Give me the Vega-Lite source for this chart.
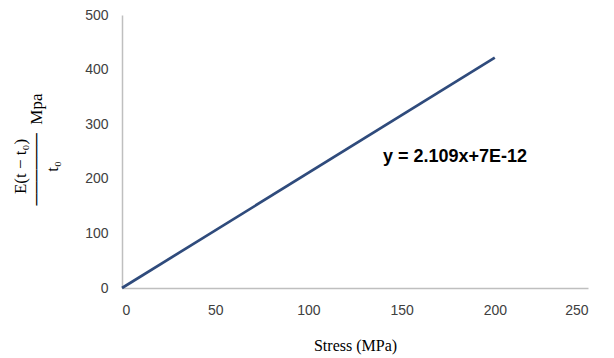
{
  "$schema": "https://vega.github.io/schema/vega-lite/v6.json",
  "width": 466,
  "height": 273,
  "autosize": {"type": "none"},
  "padding": {"left": 122, "top": 15, "right": 26, "bottom": 70},
  "background": "white",
  "config": {"view": {"stroke": null}},
  "datasets": {
    "line": [{"stress": 0, "value": 0}, {"stress": 200, "value": 421.8}],
    "label": [{"stress": 140, "value": 240, "text": "y = 2.109x+7E-12"}]
  },
  "layer": [
    {
      "data": {"name": "line"},
      "mark": {"type": "line", "color": "#2F4B7C", "strokeWidth": 2.7},
      "encoding": {
        "x": {
          "field": "stress", "type": "quantitative",
          "scale": {"domain": [0, 250], "nice": false},
          "axis": {
            "values": [0, 50, 100, 150, 200, 250],
            "title": "Stress (MPa)",
            "titleFont": "Liberation Serif", "titleFontSize": 16, "titleFontWeight": "normal", "titleColor": "#000000",
            "titlePadding": 20,
            "labelFont": "Liberation Sans", "labelFontSize": 14, "labelColor": "#404040", "labelPadding": 15,
            "grid": false, "ticks": false, "domainColor": "#BFBFBF", "domainWidth": 1.5
          }
        },
        "y": {
          "field": "value", "type": "quantitative",
          "scale": {"domain": [0, 500], "nice": false},
          "axis": {
            "values": [0, 100, 200, 300, 400, 500],
            "title": ["E(t − t₀)", "\u200b\u2003\u2003──────\u2002Mpa", "t₀"],
            "titleFont": "Liberation Serif", "titleFontSize": 17, "titleFontWeight": "normal", "titleColor": "#000000",
            "titleLineHeight": 16,
            "titleAngle": -90, "titleAlign": "center", "titleBaseline": "middle",
            "titleX": -102, "titleY": 151,
            "labelFont": "Liberation Sans", "labelFontSize": 14, "labelColor": "#404040", "labelPadding": 14,
            "grid": false, "ticks": false, "domainColor": "#BFBFBF", "domainWidth": 1.5
          }
        }
      }
    },
    {
      "data": {"name": "label"},
      "mark": {"type": "text", "align": "left", "baseline": "middle", "font": "Liberation Sans", "fontSize": 18, "fontWeight": "bold", "color": "#000000"},
      "encoding": {
        "x": {"field": "stress", "type": "quantitative"},
        "y": {"field": "value", "type": "quantitative"},
        "text": {"field": "text", "type": "nominal"}
      }
    }
  ]
}
